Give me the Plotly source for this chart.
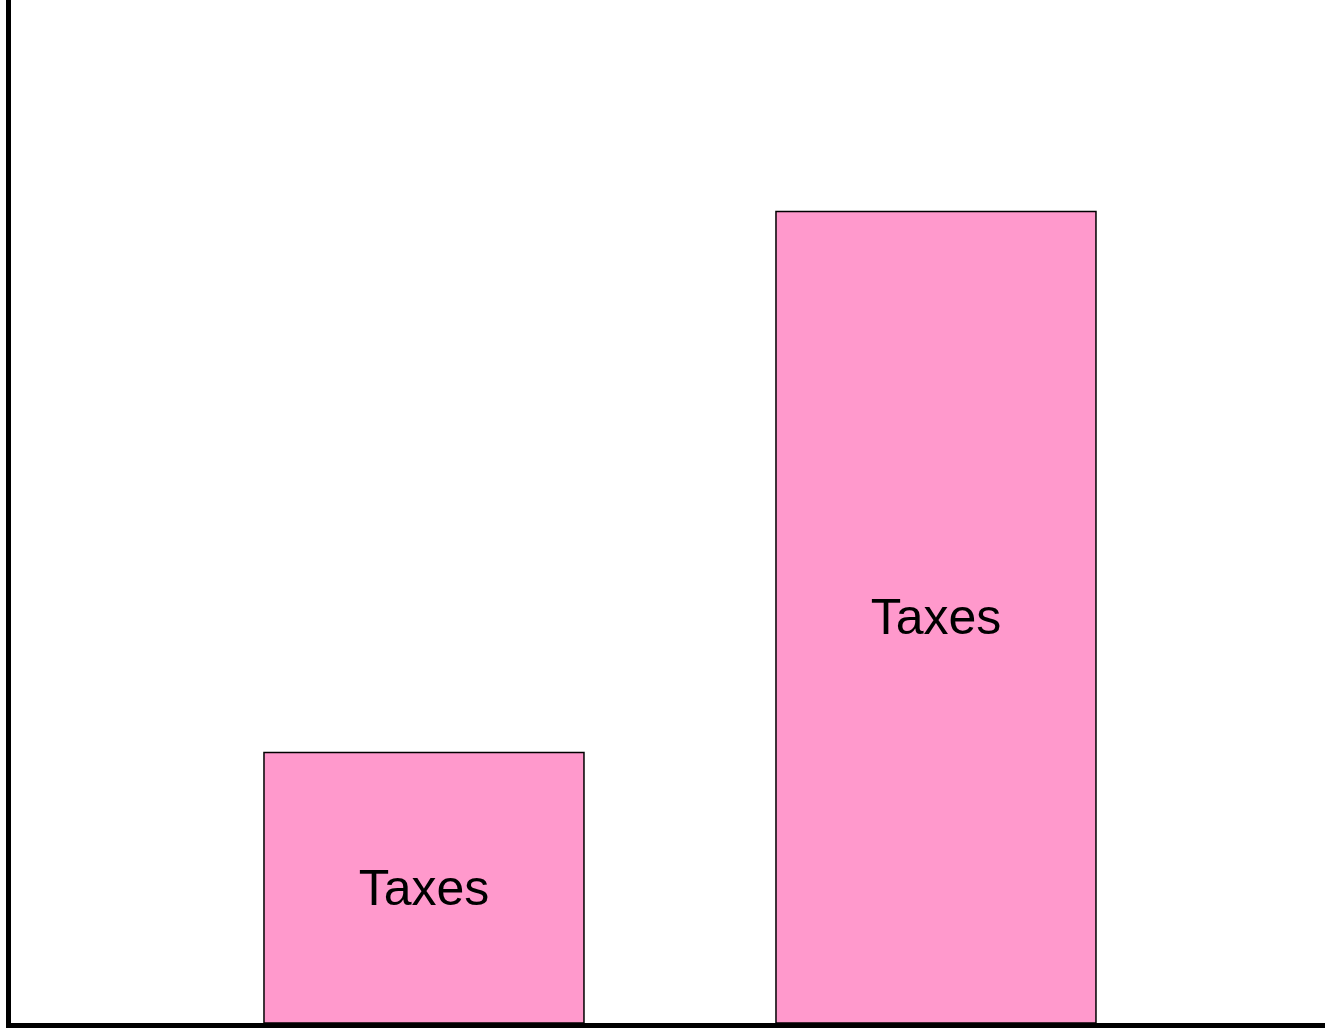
import plotly.graph_objects as go

# data
categories = [0, 1]
values = [1, 3]
bar_labels = ["Taxes", "Taxes"]

fig = go.Figure(
    go.Bar(
        x=categories,
        y=values,
        width=0.625,
        text=bar_labels,
        textposition="inside",
        insidetextanchor="middle",
        textangle=0,
        textfont=dict(family="Liberation Sans, Arial", size=50, color="black"),
        marker=dict(color="#ff99cc", line=dict(color="black", width=1.5)),
        hoverinfo="skip",
    )
)

fig.update_xaxes(
    range=[-0.8066, 1.7598],
    showline=True,
    linecolor="black",
    linewidth=5,
    showgrid=False,
    zeroline=False,
    showticklabels=False,
    ticks="",
)
fig.update_yaxes(
    range=[0, 3.782],
    showline=True,
    linecolor="black",
    linewidth=5,
    showgrid=False,
    zeroline=False,
    showticklabels=False,
    ticks="",
)

fig.update_layout(
    width=1325,
    height=1028,
    margin=dict(l=11, r=0, t=0, b=5),
    plot_bgcolor="white",
    paper_bgcolor="white",
    showlegend=False,
)

# drop the default page margin so the figure sits at the window corner
fig.write_html(
    "out.html",
    config={"displayModeBar": False},
    post_script="document.body.style.margin='0'; document.body.style.overflow='hidden';",
)
